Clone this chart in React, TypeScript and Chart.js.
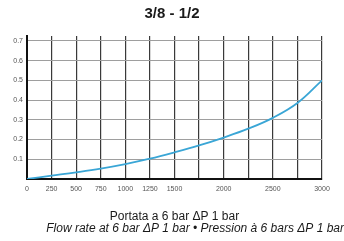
import React, { useEffect, useRef } from "react";
import { Chart, registerables } from "chart.js";

Chart.register(...registerables);

const titleText = "3/8 - 1/2";
const xAxisTitle = "Portata a 6 bar ΔP 1 bar";
const subtitleText = "Flow rate at 6 bar ΔP 1 bar • Pression à 6 bars ΔP 1 bar";

const flowRates = [0, 250, 500, 750, 1000, 1250, 1500, 1750, 2000, 2250, 2500, 2750, 3000];
const pressureDrop = [0, 0.017, 0.034, 0.053, 0.076, 0.103, 0.135, 0.17, 0.21, 0.255, 0.31, 0.385, 0.5];
const xLabelHidden = [1750, 2250, 2750];
const yTickValues = [0, 0.05, 0.1, 0.15, 0.2, 0.25, 0.3, 0.35, 0.4, 0.45, 0.5, 0.55, 0.6, 0.65, 0.7];

const FONT = "'Liberation Sans', Arial, sans-serif";

export default function App() {
  const ref = useRef<HTMLCanvasElement | null>(null);

  useEffect(() => {
    document.body.style.margin = "0";
    const canvas = ref.current;
    if (!canvas) return;
    const chart = new Chart(canvas, {
      type: "line",
      data: {
        datasets: [
          {
            data: flowRates.map((x, i) => ({ x, y: pressureDrop[i] })),
            borderColor: "#3aa6d6",
            borderWidth: 1.8,
            pointRadius: 0,
            tension: 0.4,
            fill: false,
          },
        ],
      },
      options: {
        responsive: false,
        animation: false,
        layout: { padding: 0 },
        plugins: {
          legend: { display: false },
          tooltip: { enabled: false },
          title: {
            display: true,
            text: titleText,
            color: "#1a1a1a",
            font: { family: FONT, size: 15, weight: "bold", lineHeight: 1.2 },
            padding: { top: 5, bottom: 13 },
          },
          subtitle: {
            display: true,
            position: "bottom",
            align: "end",
            text: subtitleText,
            color: "#1a1a1a",
            font: { family: FONT, size: 12, style: "italic", lineHeight: 1 },
            padding: { top: 0, bottom: 6.5 },
          },
        },
        scales: {
          x: {
            type: "linear",
            min: 0,
            max: 3000,
            afterFit: (s: any) => {
              s.height = 43.5;
            },
            ticks: {
              stepSize: 250,
              autoSkip: false,
              maxRotation: 0,
              padding: 6,
              color: "#555",
              font: { family: FONT, size: 7 },
              callback: (v: any) => (xLabelHidden.includes(Number(v)) ? "" : String(v)),
            },
            grid: { color: "#3a3a3a", lineWidth: 1.2, drawTicks: false },
            border: { color: "#111", width: 2 },
            title: {
              display: true,
              text: xAxisTitle,
              color: "#1a1a1a",
              font: { family: FONT, size: 12, lineHeight: 1 },
              padding: { top: 0, bottom: 0 },
            },
          },
          y: {
            type: "linear",
            min: 0,
            max: 0.725,
            afterFit: (s: any) => {
              s.width = 27;
            },
            afterBuildTicks: (s: any) => {
              s.ticks = yTickValues.map((value) => ({ value }));
            },
            ticks: {
              padding: 4,
              color: "#555",
              font: { family: FONT, size: 7 },
              callback: (v: any) => {
                const n = Math.round(Number(v) * 100);
                if (n === 0 || n % 10 !== 0) return "";
                return (n / 100).toFixed(1);
              },
            },
            grid: { color: "#9e9e9e", lineWidth: 1, drawTicks: false },
            border: { color: "#111", width: 2 },
          },
          yRight: {
            type: "linear",
            position: "right",
            display: true,
            afterFit: (s: any) => {
              s.width = 22;
            },
            ticks: { display: false },
            grid: { display: false, drawTicks: false },
            border: { display: false },
          },
        },
      },
    } as any);
    return () => chart.destroy();
  }, []);

  return (
    <div style={{ width: 344, height: 241 }}>
      <canvas ref={ref} width={344} height={241} style={{ width: 344, height: 241, display: "block" }} />
    </div>
  );
}
